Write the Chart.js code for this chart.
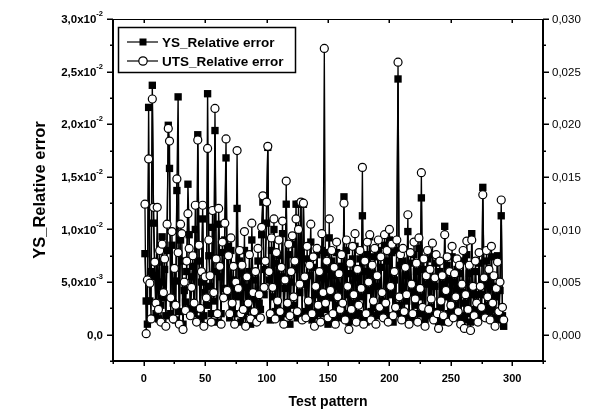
<!DOCTYPE html>
<html>
<head>
<meta charset="utf-8">
<script src="https://cdn.jsdelivr.net/npm/chart.js@4.4.0/dist/chart.umd.min.js"></script>
<style>
  html, body { margin: 0; padding: 0; background: #fff; }
  #wrap { width: 595px; height: 411px; position: relative; }
</style>
</head>
<body>
<div id="wrap"><canvas id="c" width="595" height="411"></canvas></div>
<script>
// Relative errors per test pattern, in units of 10^-3
const utsRelErrE3 = [
  12.4, 0.1, 5.2, 16.7, 4.9, 1.5, 22.4, 12.1, 6.9, 3.0,
  12.1, 2.4, 8.0, 1.2, 8.6, 4.0, 7.2, 0.8, 10.5, 19.6,
  18.4, 3.5, 9.8, 1.5, 6.3, 2.8, 14.8, 7.8, 1.0, 10.5,
  9.6, 0.5, 5.0, 2.3, 7.0, 11.5, 8.2, 1.8, 4.5, 7.5,
  3.0, 12.3, 1.2, 18.5, 8.5, 2.5, 6.0, 12.3, 0.8, 5.5,
  3.5, 17.7, 9.0, 5.6, 1.2, 11.8, 4.0, 21.5, 7.2, 2.0,
  12.0, 6.5, 1.0, 8.8, 3.5, 10.6, 18.6, 4.2, 7.5, 2.0,
  9.2, 3.0, 6.5, 1.0, 5.0, 17.5, 4.4, 8.0, 2.0, 6.6,
  2.4, 9.8, 0.8, 5.5, 3.0, 7.6, 1.5, 10.6, 4.0, 2.2,
  6.0, 1.2, 8.2, 3.8, 1.6, 10.2, 13.2, 4.5, 7.0, 12.6,
  17.9, 6.0, 2.0, 9.2, 4.5, 11.0, 1.5, 7.8, 3.2, 9.0,
  2.2, 6.4, 10.8, 1.0, 5.2, 14.6, 3.0, 8.6, 1.8, 6.0,
  9.4, 3.6, 7.0, 11.0, 2.2, 10.0, 4.8, 12.6, 1.4, 12.5,
  5.5, 1.6, 8.4, 3.2, 6.6, 10.5, 2.0, 7.4, 0.8, 4.6,
  8.2, 2.8, 6.0, 1.2, 9.6, 4.0, 27.2, 3.0, 7.0, 1.6,
  11.0, 4.2, 8.0, 2.0, 6.4, 1.0, 8.8, 3.6, 5.8, 2.4,
  7.6, 3.0, 12.5, 1.4, 9.0, 4.6, 0.5, 6.8, 2.4, 8.4,
  3.8, 9.6, 1.2, 6.2, 2.8, 8.0, 4.4, 15.9, 1.0, 7.0,
  2.0, 8.8, 5.0, 9.5, 1.4, 6.6, 3.2, 8.2, 1.0, 5.6,
  9.0, 2.6, 7.4, 4.0, 1.6, 9.5, 3.0, 8.0, 1.2, 10.0,
  4.6, 8.6, 1.8, 6.0, 2.6, 9.0, 25.9, 3.6, 7.6, 1.4,
  8.2, 2.2, 6.4, 3.8, 11.4, 1.0, 7.8, 4.8, 2.0, 8.8,
  3.4, 6.8, 1.2, 9.2, 4.4, 15.4, 2.6, 7.2, 0.8, 5.6,
  8.0, 2.4, 6.2, 3.4, 8.7, 1.4, 5.4, 7.6, 2.0, 0.6,
  7.0, 3.2, 5.6, 1.8, 9.5, 4.2, 7.4, 1.2, 6.0, 2.8,
  8.4, 1.6, 5.8, 3.6, 7.2, 2.2, 6.6, 1.0, 4.8, 8.0,
  0.6, 3.8, 8.9, 2.4, 6.6, 0.4, 9.0, 4.6, 1.8, 7.0,
  3.0, 1.2, 7.8, 4.6, 2.6, 13.3, 5.4, 1.6, 8.0, 3.6,
  6.2, 1.4, 8.4, 3.0, 5.6, 0.8, 4.4, 6.9, 2.2, 5.0,
  12.8, 2.6, 1.4
];

const ysRelErrE3 = [
  7.7, 3.2, 1.0, 21.6, 3.2, 6.0, 23.7, 10.6, 5.5, 2.0,
  6.9, 1.5, 5.0, 2.8, 9.3, 3.5, 6.2, 1.8, 8.0, 19.9,
  15.8, 2.0, 8.5, 3.0, 5.1, 1.4, 13.7, 22.6, 2.2, 9.0,
  7.0, 1.0, 4.2, 3.1, 6.0, 14.3, 9.5, 2.5, 5.5, 6.5,
  2.0, 10.0, 2.4, 19.0, 7.0, 1.5, 5.0, 11.0, 1.8, 4.0,
  2.8, 22.9, 7.5, 4.6, 2.0, 10.2, 3.2, 19.4, 6.0, 1.2,
  10.5, 5.5, 2.0, 7.8, 4.4, 9.0, 16.8, 3.6, 8.4, 1.6,
  8.0, 2.5, 5.2, 2.0, 4.0, 12.0, 3.6, 7.0, 1.2, 5.8,
  1.8, 8.0, 2.2, 4.5, 2.5, 6.0, 1.0, 9.0, 3.4, 1.6,
  5.2, 2.0, 7.0, 3.0, 2.4, 9.5, 12.6, 3.8, 6.2, 10.6,
  17.8, 5.2, 1.4, 8.0, 3.6, 10.0, 2.2, 6.8, 2.6, 7.5,
  1.6, 5.5, 9.6, 2.0, 4.4, 12.4, 2.5, 7.6, 1.0, 5.0,
  8.6, 2.8, 6.2, 12.4, 1.6, 12.4, 4.0, 12.5, 2.0, 12.4,
  4.8, 2.2, 7.2, 2.6, 5.6, 8.8, 1.4, 6.4, 1.8, 3.8,
  7.6, 2.2, 5.4, 2.0, 8.0, 3.4, 7.8, 2.4, 6.2, 1.0,
  9.2, 3.5, 7.0, 1.4, 5.6, 1.8, 7.8, 2.8, 4.6, 1.6,
  6.5, 2.4, 13.1, 2.0, 8.0, 3.8, 1.2, 5.8, 1.8, 7.2,
  3.0, 8.4, 1.8, 5.4, 2.0, 7.2, 3.6, 11.3, 1.6, 6.0,
  1.2, 7.6, 4.2, 9.3, 2.2, 5.8, 2.6, 7.4, 1.8, 4.6,
  8.0, 2.0, 6.4, 3.2, 2.2, 8.5, 2.4, 7.0, 1.8, 9.0,
  3.8, 7.8, 1.2, 5.2, 2.0, 8.0, 24.3, 2.8, 6.6, 2.0,
  7.0, 1.6, 5.6, 3.2, 9.8, 1.8, 6.8, 4.0, 1.4, 7.6,
  2.8, 6.0, 2.0, 8.2, 3.6, 13.0, 2.0, 6.2, 1.4, 4.8,
  7.2, 1.8, 5.4, 2.6, 7.6, 2.2, 4.6, 6.8, 1.4, 1.2,
  6.0, 2.6, 4.8, 1.2, 10.3, 3.6, 6.6, 2.0, 5.2, 2.2,
  7.4, 2.2, 5.0, 2.8, 6.2, 1.6, 5.8, 1.8, 4.0, 7.0,
  1.4, 3.0, 7.6, 2.0, 5.8, 1.2, 9.6, 3.8, 2.4, 6.0,
  2.4, 2.0, 6.8, 3.8, 1.8, 14.0, 4.8, 2.2, 7.0, 2.8,
  5.4, 2.2, 7.4, 2.4, 4.6, 1.6, 3.6, 7.5, 1.4, 4.2,
  11.3, 1.8, 0.8
];

// Axis ticks and labels
const xTicks = [0, 50, 100, 150, 200, 250, 300];
const xMinorTicks = [-25, 25, 75, 125, 175, 225, 275, 325];
const yTicks = [0, 0.005, 0.010, 0.015, 0.020, 0.025, 0.030];
const yMinorTicks = [-0.0025, 0.0025, 0.0075, 0.0125, 0.0175, 0.0225, 0.0275];
const yLeftMantissa = ['0,0', '5,0x10', '1,0x10', '1,5x10', '2,0x10', '2,5x10', '3,0x10'];
const yLeftExponent = ['', '-3', '-2', '-2', '-2', '-2', '-2'];
const yRightLabels = ['0,000', '0,005', '0,010', '0,015', '0,020', '0,025', '0,030'];
const seriesNames = ['YS_Relative error', 'UTS_Relative error'];
const xTitle = 'Test pattern';
const yTitle = 'YS_Relative error';

const toPoints = arr => arr.map((v, i) => ({ x: i + 1, y: v / 1000 }));

const FONT = '"Liberation Sans", Arial, Helvetica, sans-serif';

const decorations = {
  id: 'decorations',
  afterDatasetsDraw(chart) {
    const { ctx, chartArea: a, scales: { x, y } } = chart;
    ctx.save();
    ctx.strokeStyle = '#000';
    ctx.fillStyle = '#000';
    ctx.lineCap = 'butt';

    // frame
    ctx.lineWidth = 1;
    ctx.beginPath(); ctx.moveTo(a.left, a.top + 0.5); ctx.lineTo(a.right, a.top + 0.5); ctx.stroke();
    ctx.lineWidth = 2;
    ctx.beginPath(); ctx.moveTo(a.left, a.top); ctx.lineTo(a.left, a.bottom + 1); ctx.stroke();
    ctx.beginPath(); ctx.moveTo(a.right, a.top); ctx.lineTo(a.right, a.bottom + 1); ctx.stroke();
    ctx.beginPath(); ctx.moveTo(a.left - 1, a.bottom); ctx.lineTo(a.right + 1, a.bottom); ctx.stroke();

    // x ticks: outward on bottom, inward on top
    ctx.lineWidth = 1.5;
    xTicks.forEach(v => {
      const px = Math.round(x.getPixelForValue(v)) + 0.25;
      ctx.beginPath(); ctx.moveTo(px, a.bottom); ctx.lineTo(px, a.bottom + 5); ctx.stroke();
      ctx.beginPath(); ctx.moveTo(px, a.top); ctx.lineTo(px, a.top + 4); ctx.stroke();
    });
    xMinorTicks.forEach(v => {
      const px = Math.round(x.getPixelForValue(v)) + 0.25;
      ctx.beginPath(); ctx.moveTo(px, a.bottom); ctx.lineTo(px, a.bottom + 3); ctx.stroke();
    });
    // y ticks: outward on both sides
    yTicks.forEach(v => {
      const py = Math.round(y.getPixelForValue(v)) + 0.25;
      ctx.beginPath(); ctx.moveTo(a.left - 6, py); ctx.lineTo(a.left, py); ctx.stroke();
      ctx.beginPath(); ctx.moveTo(a.right, py); ctx.lineTo(a.right + 6, py); ctx.stroke();
    });
    yMinorTicks.forEach(v => {
      const py = Math.round(y.getPixelForValue(v)) + 0.25;
      ctx.beginPath(); ctx.moveTo(a.left - 3, py); ctx.lineTo(a.left, py); ctx.stroke();
      ctx.beginPath(); ctx.moveTo(a.right, py); ctx.lineTo(a.right + 3, py); ctx.stroke();
    });

    // bottom tick labels
    ctx.font = 'bold 11px ' + FONT;
    ctx.textAlign = 'center';
    ctx.textBaseline = 'middle';
    xTicks.forEach(v => ctx.fillText(String(v), x.getPixelForValue(v), a.bottom + 18));

    // left tick labels with superscript exponent
    const labelRight = a.left - 10;
    yTicks.forEach((v, i) => {
      const py = y.getPixelForValue(v);
      ctx.textBaseline = 'middle';
      ctx.textAlign = 'right';
      let right = labelRight;
      if (yLeftExponent[i]) {
        ctx.font = 'bold 7.5px ' + FONT;
        ctx.fillText(yLeftExponent[i], right, py - 5);
        right -= ctx.measureText(yLeftExponent[i]).width;
      }
      ctx.font = 'bold 11.5px ' + FONT;
      ctx.fillText(yLeftMantissa[i], right, py + 1);
    });

    // right tick labels
    ctx.font = '11.5px ' + FONT;
    ctx.textAlign = 'left';
    yTicks.forEach((v, i) => ctx.fillText(yRightLabels[i], a.right + 9, y.getPixelForValue(v) + 1));

    // axis titles
    ctx.font = 'bold 14px ' + FONT;
    ctx.textAlign = 'center';
    ctx.fillText(xTitle, (a.left + a.right) / 2, 402);
    ctx.save();
    ctx.translate(40, (a.top + a.bottom) / 2);
    ctx.rotate(-Math.PI / 2);
    ctx.font = 'bold 16.5px ' + FONT;
    ctx.fillText(yTitle, 0, 0);
    ctx.restore();

    // legend
    const lx = 118, ly = 27, lw = 177, lh = 45;
    ctx.fillStyle = '#fff';
    ctx.fillRect(lx, ly, lw, lh);
    ctx.fillStyle = '#000';
    ctx.lineWidth = 1.5;
    ctx.strokeRect(lx + 0.5, ly + 0.5, lw, lh);
    const rows = [ly + 15, ly + 34];
    ctx.lineWidth = 1.2;
    rows.forEach(ry => {
      ctx.beginPath(); ctx.moveTo(127, ry); ctx.lineTo(158, ry); ctx.stroke();
    });
    // YS symbol
    ctx.fillRect(139.5, rows[0] - 3.5, 7, 7);
    // UTS symbol
    ctx.beginPath(); ctx.arc(143, rows[1], 4.2, 0, Math.PI * 2);
    ctx.fillStyle = '#fff'; ctx.fill(); ctx.lineWidth = 1.2; ctx.stroke();
    ctx.fillStyle = '#000';
    ctx.font = 'bold 13.5px ' + FONT;
    ctx.textAlign = 'left';
    ctx.fillText(seriesNames[0], 162, rows[0] + 1);
    ctx.fillText(seriesNames[1], 162, rows[1] + 1);

    ctx.restore();
  }
};

new Chart(document.getElementById('c'), {
  type: 'scatter',
  data: {
    datasets: [
      {
        label: seriesNames[0],
        data: toPoints(ysRelErrE3),
        showLine: true,
        borderColor: '#000',
        borderWidth: 1.4,
        backgroundColor: '#000',
        pointStyle: 'rect',
        pointRadius: 5.2,
        pointBorderWidth: 0,
        pointBackgroundColor: '#000',
        order: 1
      },
      {
        label: seriesNames[1],
        data: toPoints(utsRelErrE3),
        showLine: true,
        borderColor: '#000',
        borderWidth: 1.3,
        backgroundColor: '#fff',
        pointStyle: 'circle',
        pointRadius: 4,
        pointBorderWidth: 1.2,
        pointBorderColor: '#000',
        pointBackgroundColor: '#fff',
        order: 0
      }
    ]
  },
  options: {
    responsive: false,
    animation: false,
    devicePixelRatio: 1,
    layout: { padding: { left: 113, right: 52, top: 19, bottom: 50 } },
    plugins: { legend: { display: false }, tooltip: { enabled: false } },
    scales: {
      x: { type: 'linear', min: -25, max: 325, display: false },
      y: { type: 'linear', min: -0.0025, max: 0.030, display: false }
    }
  },
  plugins: [decorations]
});
</script>
</body>
</html>
